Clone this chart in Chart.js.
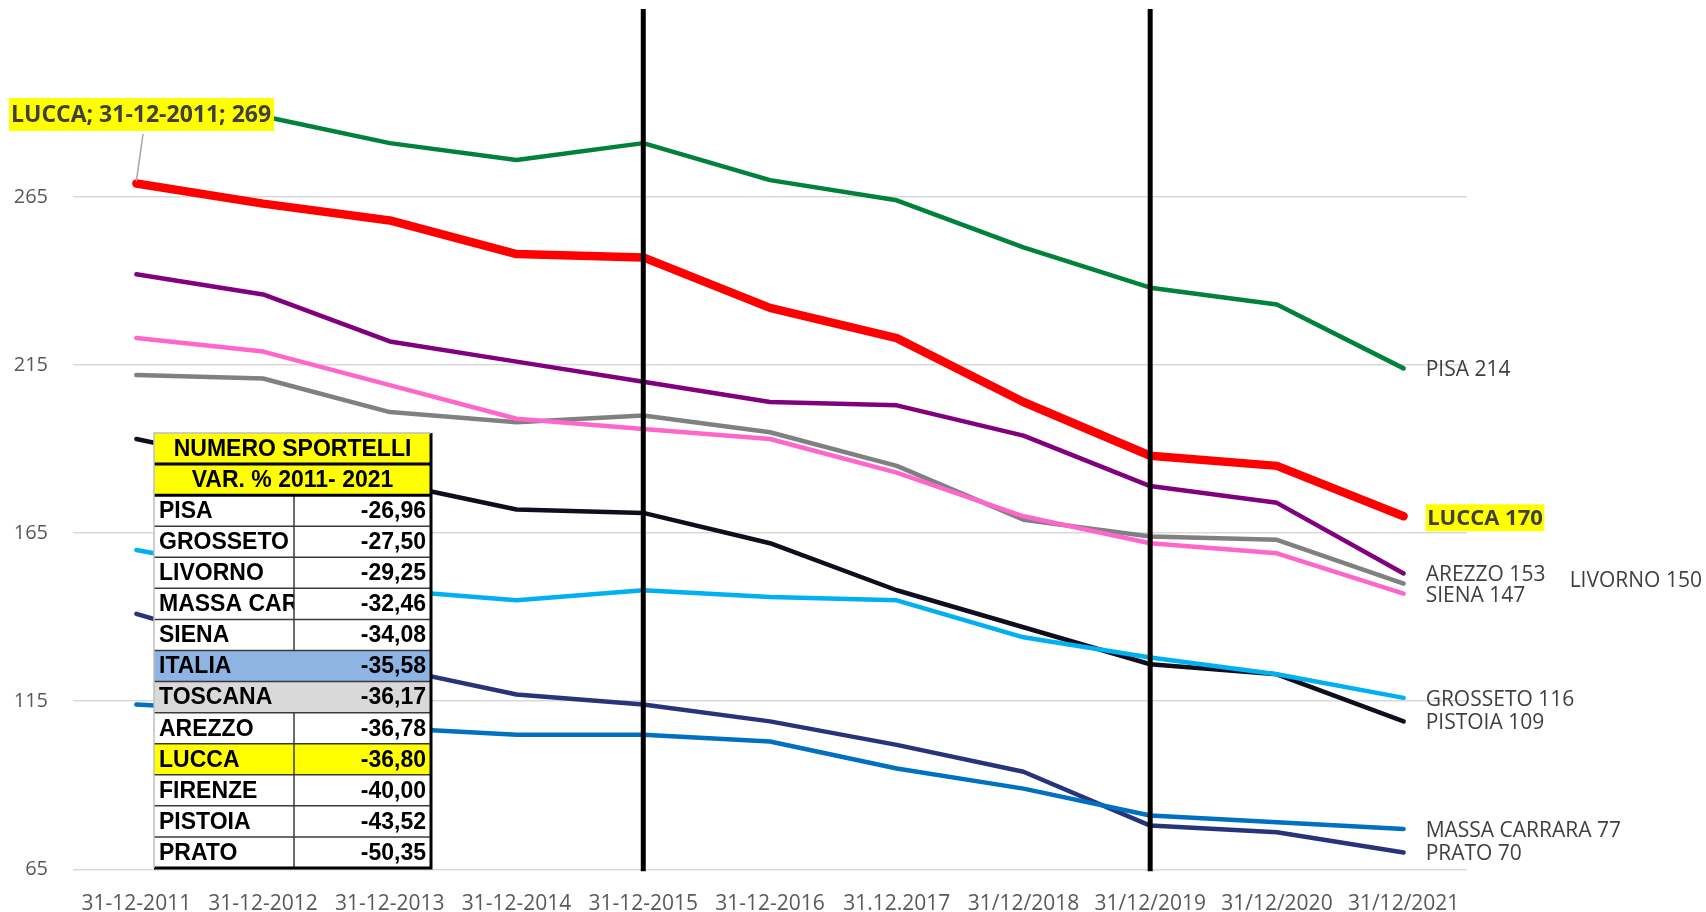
<!DOCTYPE html>
<html>
<head>
<meta charset="utf-8">
<script src="https://cdn.jsdelivr.net/npm/chart.js@4.4.1/dist/chart.umd.min.js"></script>
<style>
html,body{margin:0;padding:0;background:#fff;}
canvas{display:block;}
</style>
</head>
<body>
<canvas id="c" width="1706" height="912"></canvas>
<script>
// ---------------- DATA ----------------
const categories = ['31-12-2011','31-12-2012','31-12-2013','31-12-2014','31-12-2015','31-12-2016','31.12.2017','31/12/2018','31/12/2019','31/12/2020','31/12/2021'];
const yTicks = [65, 115, 165, 215, 265];

const lucca   = [269, 263, 258, 248, 247, 232, 223, 204, 188, 185, 170];
const pisa    = [293, 289, 281, 276, 281, 270, 264, 250, 238, 233, 214];
const arezzo  = [242, 236, 222, 216, 210, 204, 203, 194, 179, 174, 153];
const siena   = [223, 219, 209, 199, 196, 193, 183, 170, 162, 159, 147];
const livorno = [212, 211, 201, 198, 200, 195, 185, 169, 164, 163, 150];
const grosseto= [160, 153, 148, 145, 148, 146, 145, 134, 128, 123, 116];
const pistoia = [193, 185, 180, 172, 171, 162, 148, 137, 126, 123, 109];
const prato   = [141, 130, 125, 117, 114, 109, 102, 94, 78, 76, 70];
const massa   = [114, 112, 107, 105, 105, 103, 95, 89, 81, 79, 77];

const markerDates = ['31-12-2015', '31/12/2019'];

const tableTitle = ['NUMERO SPORTELLI', 'VAR. % 2011- 2021'];
const tableNames  = ['PISA','GROSSETO','LIVORNO','MASSA CARRARA','SIENA','ITALIA','TOSCANA','AREZZO','LUCCA','FIRENZE','PISTOIA','PRATO'];
const tableValues = [-26.96, -27.50, -29.25, -32.46, -34.08, -35.58, -36.17, -36.78, -36.80, -40.00, -43.52, -50.35];

// ---------------- STYLE ----------------
const seriesDefs = [
  {label:'LUCCA',          data:lucca,    color:'#FF0000', width:8.5, highlight:true},
  {label:'PISA',           data:pisa,     color:'#00823B', width:4.5},
  {label:'AREZZO',         data:arezzo,   color:'#800080', width:4.5},
  {label:'SIENA',          data:siena,    color:'#FF66CC', width:4.5},
  {label:'LIVORNO',        data:livorno,  color:'#808080', width:4.5, labelDx:166, labelDy:-5},
  {label:'GROSSETO',       data:grosseto, color:'#00B0F0', width:4.5},
  {label:'PISTOIA',        data:pistoia,  color:'#0E0E1F', width:4.5},
  {label:'MASSA CARRARA',  data:massa,    color:'#0070C0', width:4.5},
  {label:'PRATO',          data:prato,    color:'#283479', width:4.5}
];
const rowFill = {ITALIA:'#8DB4E2', TOSCANA:'#D9D9D9', LUCCA:'#FFFF00'};

const overlay = {
  id:'overlay',
  afterDatasetsDraw(chart){
    const ctx = chart.ctx, xs = chart.scales.x, ca = chart.chartArea;
    ctx.save();
    // vertical marker lines
    markerDates.forEach(d => {
      const px = xs.getPixelForValue(categories.indexOf(d));
      ctx.strokeStyle = '#000'; ctx.lineWidth = 5;
      ctx.beginPath(); ctx.moveTo(px, ca.top - 3); ctx.lineTo(px, ca.bottom + 2); ctx.stroke();
    });
    // end labels
    chart.data.datasets.forEach((ds, i) => {
      const def = seriesDefs[i];
      const meta = chart.getDatasetMeta(i);
      const pt = meta.data[meta.data.length - 1];
      const text = ds.label + ' ' + ds.data[ds.data.length - 1];
      const lx = pt.x + (def.labelDx || 22), ly = pt.y + (def.labelDy || 0) + 2;
      ctx.textBaseline = 'middle'; ctx.textAlign = 'left';
      if (def.highlight) {
        ctx.font = 'bold 22px "Open Sans"';
        const w = ctx.measureText(text).width;
        ctx.fillStyle = '#FFFF00'; ctx.fillRect(lx, ly - 14, w + 3, 27);
        ctx.fillStyle = '#404040'; ctx.fillText(text, lx + 1.5, ly);
      } else {
        ctx.font = '21px "Open Sans"';
        ctx.fillStyle = '#404040'; ctx.fillText(text, lx, ly);
      }
    });
    // first-point callout for LUCCA
    {
      const meta = chart.getDatasetMeta(0);
      const pt = meta.data[0];
      const text = 'LUCCA; ' + categories[0] + '; ' + lucca[0];
      ctx.font = 'bold 23px "Open Sans"';
      const w = ctx.measureText(text).width;
      const bx = 9, by = 98, bh = 33;
      ctx.strokeStyle = '#A6A6A6'; ctx.lineWidth = 1.5;
      ctx.beginPath(); ctx.moveTo(143, by + bh + 3); ctx.lineTo(pt.x, pt.y - 2); ctx.stroke();
      ctx.fillStyle = '#FFFF00'; ctx.fillRect(bx, by, w + 5, bh);
      ctx.fillStyle = '#404040'; ctx.textBaseline = 'middle'; ctx.textAlign = 'left';
      ctx.fillText(text, bx + 2, by + bh / 2 + 1);
    }
    // table
    {
      const L = 154, R = 431, Tp = 433, B = 868, D = 294;
      const nRows = tableTitle.length + tableNames.length;
      const rh = (B - Tp) / nRows;
      ctx.fillStyle = '#FFFF00'; ctx.fillRect(L, Tp, R - L, rh * 2);
      tableNames.forEach((n, k) => {
        ctx.fillStyle = rowFill[n] || '#FFFFFF';
        ctx.fillRect(L, Tp + rh * (k + 2), R - L, rh);
      });
      ctx.fillStyle = '#000'; ctx.font = 'bold 23px "Liberation Sans", Arial, sans-serif';
      ctx.textBaseline = 'middle';
      ctx.textAlign = 'center';
      tableTitle.forEach((t, k) => ctx.fillText(t, (L + R) / 2, Tp + rh * (k + 0.5) + 1));
      tableNames.forEach((n, k) => {
        const cy = Tp + rh * (k + 2.5) + 1;
        ctx.save();
        ctx.beginPath(); ctx.rect(L, cy - rh / 2, D - L, rh); ctx.clip();
        ctx.textAlign = 'left'; ctx.fillText(n, L + 5, cy);
        ctx.restore();
        ctx.textAlign = 'right';
        ctx.fillText(tableValues[k].toFixed(2).replace('.', ','), R - 5, cy);
      });
      ctx.strokeStyle = '#3A3A3A'; ctx.lineWidth = 1.5;
      for (let k = 3; k < nRows; k++) {
        ctx.beginPath(); ctx.moveTo(L, Tp + rh * k); ctx.lineTo(R, Tp + rh * k); ctx.stroke();
      }
      tableNames.forEach((n, k) => {
        if (n === 'ITALIA' || n === 'TOSCANA') return;
        ctx.beginPath(); ctx.moveTo(D, Tp + rh * (k + 2)); ctx.lineTo(D, Tp + rh * (k + 3)); ctx.stroke();
      });
      ctx.strokeStyle = '#000'; ctx.lineWidth = 3;
      [1, 2].forEach(k => { ctx.beginPath(); ctx.moveTo(L, Tp + rh * k); ctx.lineTo(R, Tp + rh * k); ctx.stroke(); });
      ctx.beginPath(); ctx.moveTo(R, Tp); ctx.lineTo(R, B); ctx.lineTo(L, B); ctx.stroke();
      ctx.strokeStyle = '#BFBFBF'; ctx.lineWidth = 1.5;
      ctx.beginPath(); ctx.moveTo(L, B); ctx.lineTo(L, Tp); ctx.lineTo(R, Tp); ctx.stroke();
    }
    ctx.restore();
  }
};

new Chart(document.getElementById('c'), {
  type: 'line',
  data: {
    labels: categories,
    datasets: seriesDefs.map(s => ({
      label: s.label, data: s.data, borderColor: s.color, backgroundColor: s.color,
      borderWidth: s.width, pointRadius: 0, pointHoverRadius: 0, tension: 0,
      borderCapStyle: 'round', borderJoinStyle: 'round', fill: false
    }))
  },
  options: {
    responsive: false, animation: false, devicePixelRatio: 1,
    layout: {padding: {left: 0, right: 239, top: 12, bottom: 0}},
    plugins: {legend: {display: false}, tooltip: {enabled: false}},
    scales: {
      x: {
        offset: true,
        grid: {display: false}, border: {display: false},
        ticks: {color: '#595959', font: {family: '"Open Sans"', size: 21}, padding: 14, maxRotation: 0, autoSkip: false},
        afterFit(s){ s.height = 912 - 869.3; s.paddingLeft = 0; s.paddingRight = 0; }
      },
      y: {
        min: 65, max: 320,
        afterBuildTicks(s){ s.ticks = yTicks.map(v => ({value: v})); },
        afterFit(s){ s.width = 73; s.paddingTop = 0; s.paddingBottom = 0; },
        grid: {color: '#D9D9D9', lineWidth: 1.5, drawTicks: false}, border: {display: false},
        ticks: {color: '#595959', font: {family: '"Open Sans"', size: 20}, padding: 25}
      }
    }
  },
  plugins: [overlay]
});
</script>
</body>
</html>
